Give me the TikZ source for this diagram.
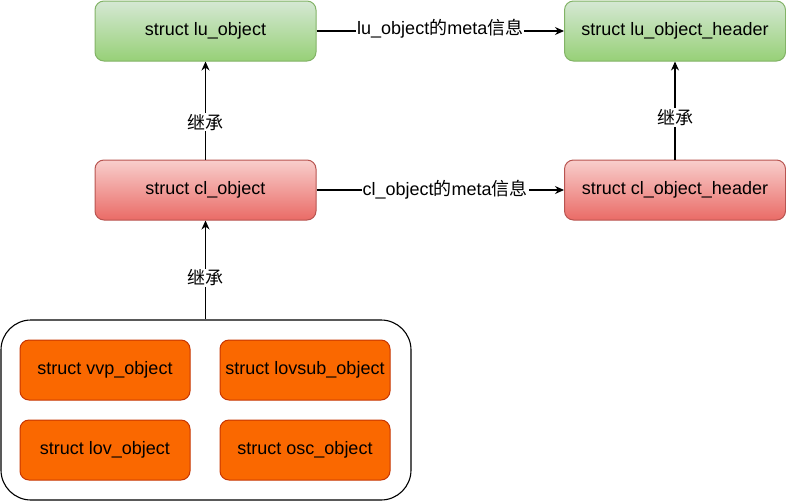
\documentclass[tikz,border=0pt]{standalone}
\usepackage{fontspec}
\setmainfont{Liberation Sans}
\newfontfamily\cjk{Noto Sans CJK SC}
\usetikzlibrary{arrows.meta,positioning}
\definecolor{gtop}{HTML}{D5E8D4}
\definecolor{gbot}{HTML}{97D077}
\definecolor{gline}{HTML}{82B366}
\definecolor{rtop}{HTML}{F8CECC}
\definecolor{rbot}{HTML}{EA6B66}
\definecolor{rline}{HTML}{B85450}
\definecolor{ofill}{HTML}{FA6800}
\definecolor{oline}{HTML}{C73500}
\begin{document}
\begin{tikzpicture}[x=1pt,y=-1pt,
  box/.style={rounded corners=9pt,minimum width=221pt,minimum height=60pt,inner sep=0pt,font=\fontsize{18}{21}\selectfont,line width=1pt},
  greenbox/.style={box,draw=gline,top color=gtop,bottom color=gbot},
  redbox/.style={box,draw=rline,top color=rtop,bottom color=rbot},
  orangebox/.style={rounded corners=9pt,minimum width=170pt,minimum height=60pt,inner sep=0pt,font=\fontsize{18}{21}\selectfont,draw=oline,fill=ofill,line width=1pt},
  container/.style={rounded corners=30pt,minimum width=410pt,minimum height=180pt,draw=black,line width=1.1pt},
  conn/.style={-{Stealth[length=9pt,width=8pt]},line width=1.1pt},
  lbl/.style={fill=white,inner sep=1pt,font=\fontsize{18}{21}\selectfont}
]
\useasboundingbox (0,0) rectangle (786,501);
\node[greenbox] (lu) at (205.5,31) {struct lu\_object};
\node[greenbox] (luh) at (675,31) {struct lu\_object\_header};
\node[redbox] (cl) at (205.5,190) {struct cl\_object};
\node[redbox] (clh) at (675,190) {struct cl\_object\_header};
\node[container] (grp) at (206,410) {};
\node[orangebox] (vvp) at (105,370) {struct vvp\_object};
\node[orangebox] (lovsub) at (305,370) {struct lovsub\_object};
\node[orangebox] (lov) at (105,450) {struct lov\_object};
\node[orangebox] (osc) at (305,450) {struct osc\_object};
\draw[conn] (lu.east) -- node[lbl,pos=0.5,yshift=2pt] (l1) {lu\_object{\cjk 的}meta{\cjk 信息}} (luh.west);
\draw[conn] (cl.east) -- node[lbl,pos=0.52] (l2) {cl\_object{\cjk 的}meta{\cjk 信息}} (clh.west);
\draw[conn] (cl.north) -- node[lbl,pos=0.38] (l3) {\cjk 继承} (lu.south);
\draw[conn] (clh.north) -- node[lbl,pos=0.43] (l4) {\cjk 继承} (luh.south);
\draw[conn] (grp.north -| cl.south) -- node[lbl,pos=0.42] (l5) {\cjk 继承} (cl.south);
\end{tikzpicture}
\end{document}
